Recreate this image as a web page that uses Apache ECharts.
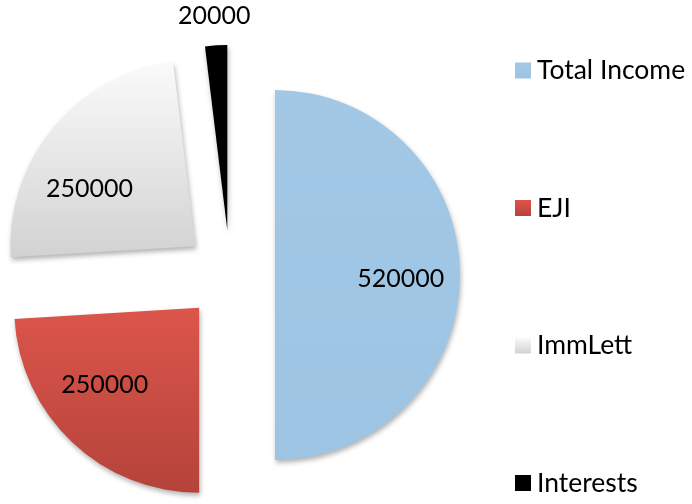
<!DOCTYPE html>
<html>
<head>
<meta charset="utf-8">
<script src="https://cdn.jsdelivr.net/npm/echarts@6/dist/echarts.min.js"></script>
<style>
html,body{margin:0;padding:0;background:#fff;}
#chart{width:692px;height:504px;}
</style>
</head>
<body>
<div id="chart"></div>
<script>
const categories = ['Total Income', 'EJI', 'ImmLett', 'Interests'];
const values = [520000, 250000, 250000, 20000];

const CX = 230, CY = 275, R = 185, OFFSET = 45;
const FONT = 'Lato';
// label distance from slice apex, as fraction of radius (inner labels / thin-slice label)
const INNER_K = 0.68, OUTER_K = 1.145;
// small per-label nudges to mimic the original's best-fit placement (px)
const nudgeX = [-3, -6, -7, 0];
const nudgeY = [4, -17, 25, 0];

const fills = [
  {type:'linear',x:0,y:0,x2:0,y2:1,colorStops:[{offset:0,color:'#a2c8e6'},{offset:1,color:'#9dc4e2'}]},
  {type:'linear',x:0,y:0,x2:0,y2:1,colorStops:[{offset:0,color:'#dc554b'},{offset:1,color:'#b5433a'}]},
  {type:'linear',x:0,y:0,x2:0,y2:1,colorStops:[{offset:0,color:'#fafafa'},{offset:1,color:'#d2d2d2'}]},
  '#000000'
];

function labelFor(i) {
  const dy = nudgeY[i], dx = nudgeX[i];
  const pad = dx < 0 ? [0, -2*dx, 0, 0] : [0, 0, 0, 2*dx];
  return {
    formatter: p => dy > 0 ? '\n' + p.value : (dy < 0 ? p.value + '\n' : String(p.value)),
    lineHeight: dy === 0 ? 30 : Math.abs(dy) * 2,
    padding: pad
  };
}

function labelSeries(k, showIdx) {
  return {
    type: 'pie',
    center: [CX, CY],
    radius: [0, 2 * k * R],
    startAngle: 90,
    clockwise: true,
    selectedMode: 'multiple',
    selectedOffset: OFFSET,
    avoidLabelOverlap: false,
    silent: true,
    z: 5,
    emphasis: {disabled: true},
    itemStyle: {color: 'rgba(0,0,0,0)'},
    labelLine: {show: false},
    label: {position: 'inside', fontFamily: FONT, fontSize: 25, color: '#000'},
    data: categories.map((c,i)=>({
      name: c, value: values[i], selected: true,
      label: Object.assign({show: showIdx(i)}, labelFor(i))
    }))
  };
}

const chart = echarts.init(document.getElementById('chart'), null, {renderer:'canvas'});
chart.setOption({
  animation: false,
  backgroundColor: '#ffffff',
  legend: {
    orient: 'vertical',
    left: 510,
    top: 52,
    itemWidth: 16,
    itemHeight: 16,
    itemGap: 110.5,
    icon: 'rect',
    selectedMode: false,
    textStyle: {fontFamily: FONT, fontSize: 26.5, color: '#000', lineHeight: 26, padding:[0,0,0,1]},
    data: categories
  },
  series: [{
    type: 'pie',
    center: [CX, CY],
    radius: [0, R],
    startAngle: 90,
    clockwise: true,
    selectedMode: 'multiple',
    selectedOffset: OFFSET,
    emphasis: {disabled: true},
    itemStyle: {
      shadowBlur: 5, shadowOffsetX: 1, shadowOffsetY: 3, shadowColor: 'rgba(0,0,0,0.3)'
    },
    label: {show: false},
    labelLine: {show: false},
    data: categories.map((c,i)=>({name:c, value:values[i], selected:true, itemStyle:{color:fills[i]}}))
  },
  labelSeries(INNER_K, i => i !== 3),
  labelSeries(OUTER_K, i => i === 3)
  ]
});
</script>
</body>
</html>
